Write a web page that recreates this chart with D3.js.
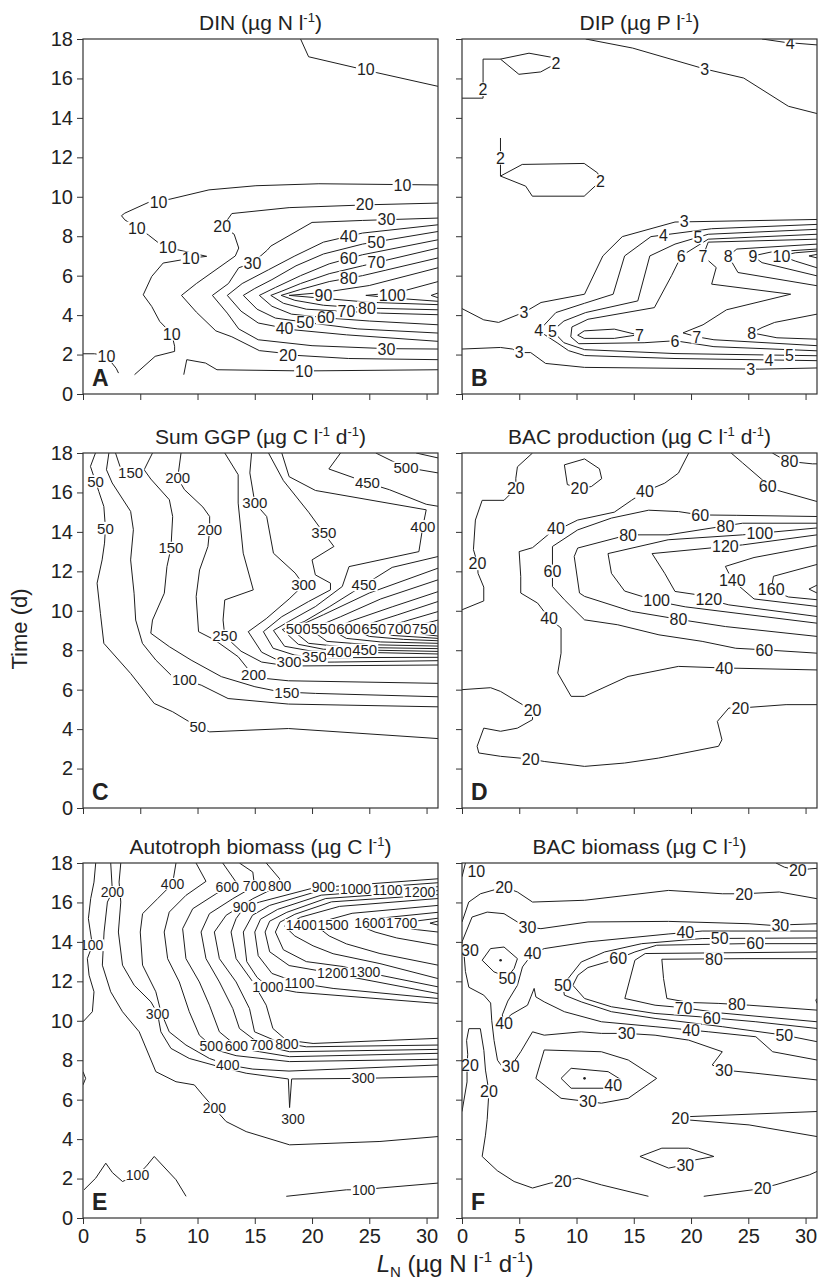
<!DOCTYPE html>
<html>
<head>
<meta charset="utf-8">
<title>Contour panels</title>
<script src="https://d3js.org/d3.v7.min.js"></script>
<style>
body { margin: 0; background: #fff; font-family: "Liberation Sans", Arial, Helvetica, sans-serif; }
</style>
</head>
<body>
<script>
// axis values
var xTicks = [0, 5, 10, 15, 20, 25, 30];
var tTicks = [0, 2, 4, 6, 8, 10, 12, 14, 16, 18];

// A: DIN  -- contour lines as [L_N, time] points, labels as [level, L_N, time]
var dinLines = [
 [[19.0,18],[19.7,17.1],[25.6,16.3],[31,15.6]],
 [[31,10.6],[20.6,10.66],[15.1,10.56],[11.0,10.35],[7.6,9.88],[5.7,9.71],[3.65,9.17],[3.36,9.04],[3.65,8.83],[5.7,8.07],[7.0,7.48],[9.5,7.15],[10.8,6.98],[9.5,6.89],[7.0,6.64],[6.0,5.96],[5.26,5.03],[6.0,4.44],[6.7,3.68],[7.75,3.05],[8.0,2.42],[8.0,2.16],[6.3,1.91],[4.5,0.98]],
 [[0,2.04],[1.0,2.04],[2.0,1.95],[2.9,1.3],[3.1,1.06]],
 [[8.8,0.98],[9.06,1.74],[10.7,1.57],[11.7,1.23],[19.3,1.17],[31,1.23]],
 [[31,9.68],[25.3,9.6],[18.0,9.45],[13.0,9.15],[12.2,8.5],[13.2,8.1],[13.6,7.4],[13.3,7.0],[9.9,5.6],[8.6,5.0],[9.9,4.15],[11.6,3.2],[13.0,2.9],[15.4,2.2],[17.0,2.1],[18.0,1.98],[23.2,1.8],[31,1.74]],
 [[31,8.92],[24.4,8.8],[20.0,8.7],[16.4,7.5],[16.1,7.3],[14.8,6.64],[13.6,6.4],[12.7,5.6],[11.3,5.0],[12.6,4.1],[13.6,3.3],[15.3,2.75],[20,2.45],[26.5,2.3],[31,2.28]],
 [[31,8.58],[24.4,8.16],[21,7.7],[18.5,7.0],[16.2,6.3],[13.9,5.6],[12.6,5.0],[13.8,4.2],[15.3,3.6],[18.3,3.26],[23,3.0],[31,2.67]],
 [[31,8.24],[24.4,7.6],[21,7.1],[18.6,6.5],[16.5,5.8],[15.0,5.35],[14.0,5.0],[15.2,4.3],[16.8,3.85],[19.9,3.6],[24,3.3],[31,3.09]],
 [[31,7.82],[24.4,7.06],[21.5,6.6],[19.0,6.0],[16.8,5.4],[15.4,5.0],[16.5,4.45],[18.2,4.05],[21.5,3.85],[25,3.7],[31,3.51]],
 [[31,7.4],[24.4,6.5],[21.5,6.1],[19.0,5.6],[17.3,5.2],[16.4,5.0],[17.5,4.6],[19.5,4.3],[22.7,4.19],[26,4.1],[31,4.02]],
 [[31,6.9],[24.4,6.0],[21.5,5.7],[19,5.3],[17.3,5.0],[18.5,4.75],[21,4.5],[24.4,4.36],[31,4.27]],
 [[31,6.4],[25,5.5],[21,5.15],[18.0,5.0],[21,4.85],[25,4.65],[31,4.53]],
 [[31,5.7],[27.5,5.15],[24.7,5.0],[27.5,4.85],[31,4.7]],
 [[31,5.12],[30.4,5.0],[31,4.88]]
];
var dinLabels = [
 [10,24.7,16.45],[10,27.9,10.6],[10,6.6,9.7],[10,4.7,8.4],[10,7.4,7.43],[10,9.4,6.88],[10,7.75,3.05],[10,2.05,1.92],[10,19.3,1.17],
 [20,24.6,9.6],[20,12.15,8.5],[20,17.9,1.98],
 [30,26.5,8.84],[30,14.8,6.64],[30,26.5,2.28],
 [40,23.2,8.0],[50,25.6,7.72],[60,23.2,6.87],[70,25.6,6.66],[80,23.2,5.88],
 [40,17.6,3.34],[50,19.4,3.64],[60,21.2,3.87],[70,23.0,4.18],[80,24.8,4.36],
 [90,21.0,5.0],[100,27.0,5.0]
];

// B: DIP
var dipLines = [
 [[26.2,18],[28.2,17.83],[31,17.7]],
 [[10.8,18],[14.9,17.54],[21.2,16.48],[24.6,16.02],[28.5,14.59],[31,14.22]],
 [[0,15.0],[1.84,15.0],[1.84,16.98],[3.36,16.98],[5.85,17.28],[7.75,17.08],[8.2,16.75],[6.87,16.33],[4.97,16.21],[3.36,16.98]],
 [[3.36,12.98],[3.36,11.05],[5.26,11.64],[10.67,11.69],[11.84,11.21],[12.1,10.8],[10.67,10.03],[6.14,10.03],[5.56,10.54],[3.36,11.05]],
 [[0,4.33],[1.9,3.76],[3.2,3.63],[5.0,4.05],[5.4,4.13],[6.9,4.64],[10.7,5.06],[12.3,7.0],[14.0,7.98],[18.6,8.72],[31,8.85]],
 [[0,2.28],[3.36,2.36],[4.4,2.28],[5.0,2.1],[6.0,2.1],[7.3,1.55],[10.7,1.35],[26.0,1.26],[31,1.32]],
 [[31,8.6],[21.8,8.38],[16.5,7.98],[14.2,7.0],[13.2,5.06],[10.7,4.6],[8.2,4.13],[6.7,3.2],[8.3,2.6],[9.3,2.2],[10.7,1.95],[18.6,1.8],[31,1.69]],
 [[31,8.35],[21.5,8.1],[18.6,7.6],[16.4,7.0],[15.35,4.72],[10.8,4.13],[8.9,3.7],[7.9,3.2],[8.9,2.6],[10.7,2.25],[18.6,2.05],[31,1.94]],
 [[31,8.1],[21.5,7.85],[19.15,7.0],[18.3,6.0],[16.8,4.38],[11.0,3.79],[9.6,3.4],[9.5,2.9],[10.2,2.55],[15.9,2.6],[18.6,2.7],[22,2.4],[31,2.19]],
 [[10.1,2.98],[10.67,3.2],[13.3,3.29],[15.35,3.0],[13.3,2.82],[10.67,2.82],[10.1,2.98]],
 [[31,7.85],[21.5,7.7],[21.05,7.0],[22.2,6.41],[21.8,5.57],[28.7,5.06],[23.1,4.27],[21.05,3.51],[19.3,3.1],[20.5,2.9],[22,2.75],[31,2.45]],
 [[31,7.6],[24,7.35],[23.25,7.0],[24.1,6.16],[31,5.49]],
 [[31,4.05],[27.3,3.63],[26.2,3.37],[25.3,3.1],[27.5,2.85],[31,2.78]],
 [[31,7.35],[27,7.2],[25.4,7.0],[26.2,6.66],[31,5.99]],
 [[31,7.25],[29.1,7.16],[27.9,7.0],[29.1,6.74],[31,6.4]],
 [[31,7.08],[30.3,7.0],[31,6.9]]
];
var dipLabels = [
 [4,28.65,17.8],[3,21.2,16.48],[2,1.84,15.45],[2,8.2,16.75],[2,3.36,11.97],[2,12.1,10.8],
 [3,5.4,4.13],[3,19.4,8.75],[3,25.2,1.27],
 [3,5.0,2.1],[4,6.7,3.25],[4,26.8,1.72],[4,17.6,8.06],[5,7.9,3.2],[5,28.6,1.95],[5,20.6,7.94],
 [6,19.15,7.0],[6,18.6,2.68],[7,15.5,3.0],[7,21.05,7.0],[7,20.5,2.9],
 [8,23.25,7.0],[8,25.3,3.1],[9,25.4,7.0],[10,27.9,7.0]
];

// C: Sum GGP
var ggpLines = [
 [[1.09,18],[0.65,17.32],[1.09,16.56],[1.38,16.05],[1.82,15.29],[1.96,14.19],[1.88,13.43],[1.67,12.58],[1.23,11.4],[1.52,9.87],[1.82,8.35],[4.16,6.82],[6.22,5.3],[7.83,4.88],[10.03,4.11],[11.06,3.86],[17.94,4.03],[31,3.52]],
 [[2.26,18],[2.05,17.15],[2.55,16.48],[4.16,15.04],[4.4,14.11],[4.16,12.58],[4.46,10.89],[4.6,9.53],[5.19,8.35],[6.36,7.5],[7.68,6.74],[8.86,6.49],[10.32,6.23],[12.67,5.55],[17.94,5.27],[31,5.13]],
 [[2.84,18],[3.28,17.23],[4.16,16.99],[5.34,17.15],[6.07,18]],
 [[5.34,17.15],[5.92,16.68],[7.54,15.63],[7.83,14.78],[7.68,13.18],[7.33,12.24],[7.1,10.89],[6.07,9.53],[5.92,8.86],[7.54,8.18],[9.44,7.5],[12.08,6.66],[15.01,6.15],[17.21,5.89],[20.29,5.81],[31,5.64]],
 [[8.56,18],[8.27,16.73],[8.86,16.14],[10.47,15.26],[11.06,14.78],[11.06,14.11],[10.91,13.26],[10.18,12.07],[9.88,10.72],[10.09,8.94],[11.5,8.52],[13.55,7.67],[14.72,6.82],[15.89,6.57],[17.94,6.45],[31,6.32]],
 [[12.38,18],[13.55,16.9],[13.55,15.46],[13.99,12.92],[14.87,11.06],[12.38,10.55],[12.23,9.53],[12.38,8.72],[13.8,7.95],[15.6,7.4],[17.94,7.2],[31,7.25]],
 [[14.72,18],[14.57,16.99],[15.01,15.46],[16.04,14.78],[16.63,12.92],[18.53,11.91],[19.27,11.31],[18.0,10.6],[16.0,9.6],[14.43,8.94],[15.6,7.9],[17.0,7.5],[18.8,7.38],[22,7.4],[31,7.47]],
 [[16.2,18],[17.5,16.6],[19.7,15.0],[21.03,13.94],[21.91,13.26],[20.0,12.58],[20.29,11.82],[21.61,11.4],[21.61,11.06],[19.7,10.47],[17.36,9.7],[15.75,8.94],[16.6,8.1],[18.5,7.75],[20.9,7.62],[31,7.64]],
 [[17.36,18],[18.0,16.8],[20.3,16.1],[29.97,15.12],[29.68,14.28],[29.33,13.0],[23.23,12.24],[22.64,11.23],[20.29,10.21],[17.94,9.45],[16.63,9.0],[17.6,8.2],[20,7.95],[31,7.81]],
 [[31,12.75],[27,12.2],[24.55,11.31],[21.5,10.2],[19.3,9.45],[17.4,9.05],[18.8,8.3],[21,8.05],[31,7.94]],
 [[31,12.16],[25,10.9],[21,9.8],[18.2,9.06],[19.7,8.35],[23,8.15],[31,8.08]],
 [[31,11.57],[26,10.6],[22.5,9.7],[19.85,9.06],[21.3,8.45],[25,8.28],[31,8.21]],
 [[31,10.97],[27,10.2],[23.5,9.5],[21.6,9.06],[23,8.6],[26,8.42],[31,8.35]],
 [[31,10.47],[27.5,9.8],[24.8,9.3],[23.7,9.06],[25,8.7],[28,8.55],[31,8.48]],
 [[31,9.96],[28,9.45],[25.7,9.06],[27,8.75],[31,8.6]],
 [[31,9.53],[29.5,9.3],[28.1,9.06],[29.5,8.82],[31,8.72]],
 [[31,9.2],[30.4,9.03],[31,8.86]],
 [[22.49,18],[21.47,17.19],[24.1,16.65],[24.84,16.48],[26.75,16.14],[29.97,15.4],[31,15.3]],
 [[25.57,18],[27.04,17.58],[28.21,17.24],[29.38,17.15],[31,16.99]],
 [[29.09,18],[31,17.75]]
];
var ggpLabels = [
 [50,1.09,16.56],[50,1.96,14.19],[50,10.03,4.11],[100,8.86,6.49],
 [150,4.16,16.99],[150,7.68,13.18],[150,17.8,5.87],
 [200,8.27,16.73],[200,11.06,14.11],[200,14.9,6.78],[250,12.38,8.72],
 [300,15.01,15.46],[300,19.27,11.31],[350,21.03,13.94],
 [400,29.68,14.28],[450,24.84,16.48],[450,24.55,11.31],[500,28.21,17.24],
 [300,18.0,7.43],[350,20.2,7.66],[400,22.4,7.92],[450,24.6,8.01],
 [500,18.8,9.08],[550,21.0,9.1],[600,23.2,9.1],[650,25.4,9.1],[700,27.6,9.1],[750,29.8,9.1]
];

// D: BAC production
var bacProdLines = [
 [[6.16,18],[4.84,17.3],[4.7,16.72],[4.7,16.2],[3.67,15.6],[1.76,15.6],[1.17,14.6],[1.0,13.1],[1.35,12.4],[1.4,11.9],[1.9,11.2],[1.9,10.5],[0,10.05]],
 [[8.94,17.4],[10.7,17.7],[12.0,17.2],[12.2,16.7],[11.3,16.3],[10.26,16.2],[9.2,16.4],[8.94,17.4]],
 [[19.8,18],[18.9,16.98],[17.7,16.47],[15.98,16.05],[14.8,15.6],[13.3,15.0],[10.1,14.6],[8.94,14.27],[8.2,14.2],[7.5,13.85],[6.16,13.2],[4.99,13.0],[5.13,11.74],[5.13,10.9],[6.6,10.39],[7.6,9.63],[8.65,9.12],[8.65,7.85],[8.36,6.84],[9.53,5.66],[10.7,5.66],[14.5,6.67],[18.9,7.18],[22.9,7.1],[31,7.0]],
 [[23.5,18],[24.5,17.5],[26.4,16.55],[26.7,16.3],[27.4,16.13],[31,15.54]],
 [[27.1,18],[28.0,17.7],[28.6,17.57],[30.6,17.45],[31,17.45]],
 [[31,14.78],[24,14.84],[20.8,14.86],[18.9,15.03],[16.3,15.1],[13.05,14.7],[10.1,14.1],[7.9,13.26],[7.9,12.0],[7.9,11.23],[8.94,10.56],[10.7,9.54],[13.6,9.29],[17.2,8.78],[20.97,8.45],[23.9,8.1],[26.4,8.02],[31,7.85]],
 [[31,14.44],[24.5,14.44],[18.0,13.85],[14.5,13.85],[10.1,13.18],[9.8,12.75],[10.26,10.9],[10.7,10.73],[14.8,9.97],[18.3,9.63],[19.2,9.54],[23.0,9.2],[31,8.7]],
 [[31,14.2],[24.5,13.85],[18,13.6],[12.75,12.9],[13.05,11.9],[14.2,11.0],[16.6,10.57],[17.7,10.4],[19.5,10.2],[31,9.37]],
 [[31,13.85],[24.5,13.34],[16.6,12.9],[17.7,11.9],[18.6,10.98],[20.7,10.8],[21.55,10.56],[23.3,10.3],[31,9.71]],
 [[31,13.3],[25.5,12.7],[23,12.25],[23.6,11.55],[25.5,10.6],[31,10.22]],
 [[31,12.35],[27.2,11.75],[27,11.07],[28.5,10.7],[31,10.56]],
 [[31,11.3],[30.3,11.1],[31,10.9]],
 [[0,6.0],[2.5,6.1],[3.37,5.91],[5.28,5.24],[6.16,4.95],[6.16,4.48],[4.84,4.05],[3.37,3.89],[1.9,4.05],[1.32,3.13],[1.47,2.79],[3.37,2.62],[6.0,2.48],[7.18,2.36],[10.7,2.11],[14.2,2.28],[17.15,2.53],[22.4,3.13],[22.7,3.46],[22.3,4.39],[23.3,5.07],[24.3,5.07],[28.3,5.24],[31,5.24]]
];
var bacProdLabels = [
 [20,4.7,16.2],[20,1.35,12.4],[20,10.26,16.2],
 [40,15.98,16.05],[40,8.2,14.2],[40,7.6,9.63],[40,22.9,7.1],
 [60,26.7,16.3],[80,28.6,17.57],[60,20.8,14.86],[60,7.9,12.0],[60,26.4,8.02],
 [80,23.0,14.3],[80,14.5,13.85],[80,18.9,9.57],[100,26.0,13.93],[100,17.0,10.51],
 [120,23.0,13.26],[120,21.55,10.56],[140,23.6,11.55],[160,27.0,11.07],
 [20,6.16,4.95],[20,6.0,2.48],[20,24.3,5.07]
];

// E: autotroph biomass
var autoLines = [
 [[1.11,18],[0.96,17.03],[0.67,16.19],[0.47,15.18],[0.82,13.83],[0.38,13.15],[0.53,12.31],[0.96,11.47],[0.82,10.46],[0,9.95]],
 [[0,7.42],[0.23,7.08],[0,6.75]],
 [[2.42,18],[2.57,16.53],[2.13,16.02],[1.84,14.5],[1.69,12.82],[2.42,11.47],[3.45,10.46],[4.91,9.44],[6.36,7.42],[8.12,6.91],[9.72,6.75],[10.45,6.24],[11.47,5.56],[12.5,4.89],[14.25,4.38],[18.04,3.71],[25.93,3.88],[31,4.13]],
 [[3.3,18],[3.15,17.03],[3.3,16.02],[3.09,14.5],[3.45,12.82],[4.47,11.8],[5.93,10.96],[6.51,10.37],[6.8,9.44],[7.68,8.6],[9.28,8.09],[11.91,7.67],[14.25,7.34],[17.93,7.05],[18.04,5.6],[18.22,7.05],[24.47,7.08],[31,7.17]],
 [[8.12,18],[7.82,16.95],[6.51,16.19],[5.2,15.43],[5.0,14.5],[5.2,12.82],[6.36,11.47],[6.8,10.46],[7.53,9.44],[8.99,8.77],[11.04,8.09],[12.64,7.76],[14.83,7.55],[17.99,7.45],[31,7.76]],
 [[9.87,18],[10.74,17.07],[8.99,16.36],[7.53,15.51],[7.09,14.5],[7.39,13.15],[8.41,11.97],[9.28,10.46],[10.16,9.27],[11.62,8.52],[13.37,8.23],[18.04,7.93],[31,8.05]],
 [[12.2,18],[13.37,17.03],[11.62,16.44],[9.58,15.68],[8.7,14.67],[8.99,13.15],[10.16,11.97],[11.04,10.79],[11.91,9.44],[13.66,8.6],[15.42,8.43],[18.04,8.18],[31,8.35]],
 [[13.66,18],[14.83,17.54],[14.98,16.83],[13.08,16.19],[11.04,15.43],[10.31,14.5],[10.74,13.15],[11.91,11.97],[13.08,10.62],[13.66,9.61],[15.56,8.77],[18.04,8.43],[31,8.55]],
 [[16.0,18],[17.17,17.2],[17.17,16.86],[14.83,16.19],[12.5,15.35],[11.47,14.5],[11.91,13.15],[13.37,11.97],[14.54,10.62],[14.98,9.44],[17.17,8.9],[19.5,8.68],[31,8.77]],
 [[31,17.2],[20.09,16.73],[15.42,16.02],[14.1,15.77],[13.37,15.18],[12.93,14.5],[13.37,13.15],[14.83,11.97],[16.0,10.79],[16.58,9.61],[17.75,9.02],[20.09,8.85],[31,9.11]],
 [[31,17.0],[20.4,16.55],[16.3,15.85],[14.8,15.35],[14.0,14.5],[14.3,13.0],[15.2,12.2],[16.15,11.73],[18.63,11.45],[31,10.88]],
 [[31,16.8],[20.8,16.37],[17.0,15.65],[15.5,15.15],[15.0,14.5],[15.3,13.3],[16.5,12.4],[18.92,11.9],[21.84,11.64],[31,11.13]],
 [[31,16.6],[21.2,16.2],[17.8,15.5],[16.3,15.05],[15.9,14.5],[16.3,13.5],[18.0,12.8],[20.96,12.5],[23.59,12.2],[31,11.38]],
 [[31,16.4],[21.7,16.03],[18.5,15.4],[17.2,15.0],[16.8,14.5],[17.5,13.6],[19.5,13.0],[22.72,12.75],[24.76,12.45],[31,11.72]],
 [[31,16.2],[22.4,15.8],[19.0,15.25],[17.6,14.8],[18.5,14.3],[20.09,13.8],[21.84,13.4],[25.93,12.9],[31,12.14]],
 [[31,15.85],[23.5,15.45],[21.0,15.05],[20.4,14.8],[21.5,14.3],[23.0,13.9],[25.93,13.41],[31,12.82]],
 [[31,15.5],[25.9,15.2],[24.0,14.85],[25.5,14.5],[27.39,14.2],[31,13.83]],
 [[31,15.2],[28.3,15.0],[27.0,14.9],[28.85,14.64],[31,14.5]],
 [[31,15.05],[30.3,14.95],[31,14.85]],
 [[0.09,1.43],[1.11,2.02],[1.99,2.78],[2.57,2.3],[3.45,1.85],[4.76,2.19],[5.49,2.6],[6.22,3.12],[8.12,1.94],[9.0,1.1]],
 [[17.75,1.1],[23,1.43],[24.5,1.43],[25.93,1.52],[31,1.77]]
];
var autoLabels = [
 [100,0.75,13.83],[200,2.57,16.53],[200,11.47,5.56],[300,6.51,10.37],[300,24.47,7.08],[300,18.34,5.0],
 [400,7.82,16.95],[400,12.64,7.76],[600,12.6,16.77],[700,14.98,16.83],[800,17.17,16.86],
 [500,11.2,8.74],[600,13.4,8.72],[700,15.6,8.76],[800,17.8,8.84],[900,14.1,15.77],
 [900,21.0,16.77],[1000,23.8,16.69],[1100,26.6,16.61],[1200,29.4,16.53],
 [1000,16.15,11.73],[1100,18.9,11.9],[1200,21.8,12.4],[1300,24.6,12.47],
 [1400,19.07,14.86],[1500,21.84,14.86],[1600,25.05,14.94],[1700,27.83,14.94],
 [100,4.76,2.19],[100,24.5,1.43]
];

// F: BAC biomass
var bacBioLines = [
 [[0,17.3],[0.3,18]],
 [[0,15.01],[0.59,16.02],[1.61,16.44],[3.67,16.78],[4.84,16.53],[6.16,16.02],[10.7,16.11],[18.04,16.61],[22.73,16.44],[24.63,16.44],[27.71,16.53],[31,16.19]],
 [[27.42,18],[28.15,17.79],[29.33,17.62],[30.35,17.7],[31,17.73]],
 [[0,14.0],[0.88,15.26],[2.2,15.51],[3.67,15.43],[4.84,15.01],[5.72,14.76],[6.89,14.67],[11.0,15.01],[18.04,15.04],[25.07,14.92],[26.98,14.84],[31,14.92]],
 [[1.76,13.07],[2.49,13.66],[3.67,13.74],[4.84,13.15],[4.55,12.65],[3.96,12.22],[2.79,12.48],[1.76,13.07]],
 [[31,14.55],[20.97,14.55],[18.0,14.4],[11.0,14.0],[7.18,13.66],[6.16,13.41],[5.28,12.73],[4.84,11.8],[4.0,11.0],[3.52,10.3],[3.67,9.87],[4.25,10.3],[5.72,10.79],[6.01,11.21],[6.3,11.64],[6.45,11.21],[7.18,10.96],[8.94,10.46],[12.17,9.95],[16.86,9.7],[21.55,9.44],[25.66,9.19],[27.13,8.43],[31,8.01]],
 [[31,14.2],[20.97,14.17],[15.69,13.91],[12.46,13.49],[10.41,12.98],[8.8,11.8],[8.94,11.3],[10.41,10.96],[13.05,10.46],[16.86,10.12],[22.73,9.7],[28.15,9.27],[31,8.94]],
 [[31,13.91],[24.63,13.91],[17.0,13.83],[15.1,13.49],[13.64,13.15],[11.0,12.7],[10.12,12.31],[9.68,11.8],[10.7,11.13],[13.05,10.71],[16.86,10.37],[20.82,10.2],[25.66,9.95],[31,9.61]],
 [[31,13.49],[16.0,13.41],[15.1,13.07],[14.22,11.13],[16.86,10.79],[19.35,10.66],[22.5,10.4],[31,9.95]],
 [[31,13.15],[24.63,13.15],[17.45,13.12],[17.6,12.14],[17.89,11.13],[19.79,10.93],[22.43,10.88],[25.07,10.79],[31,10.54]],
 [[31,11.13],[30.9,11.05],[31,10.88]],
 [[0,14.0],[0.15,13.58],[0.3,12.5],[0.6,11.7],[1.9,11.3],[2.5,10.9],[2.6,10.0],[2.8,9.0],[3.1,8.0],[3.6,7.6],[4.25,7.67],[5.13,8.43],[6.16,9.44],[7.18,9.27],[10.41,9.44],[12.17,9.36],[14.37,9.36],[16.86,9.27],[19.79,9.02],[22.73,8.43],[21.85,7.76],[22.87,7.5],[25.66,7.34],[31,7.0]],
 [[0,5.4],[0.44,6.9],[0.44,7.76],[0.5,8.3],[0.4,9.0],[0.6,9.6],[1.6,9.6],[1.91,8.5],[2.05,7.5],[2.35,6.41],[2.2,5.0],[2.05,4.2],[1.76,3.12],[3.08,2.4],[4.55,1.85],[6.16,1.52],[7.7,1.77],[8.8,1.85],[10.12,2.02],[12.17,1.68],[16.28,1.1]],
 [[6.45,7.08],[7.18,8.52],[12.17,8.43],[14.52,8.01],[17.0,7.08],[14.52,6.07],[12.17,5.82],[8.65,6.07],[6.45,7.08]],
 [[8.65,7.08],[9.53,7.59],[12.76,7.42],[13.93,7.0],[12.76,6.58],[9.53,6.58],[8.65,7.08]],
 [[31,5.4],[19.79,5.14],[19.06,5.06],[19.79,4.97],[25.07,4.72],[31,4.13]],
 [[15.54,3.12],[17.45,3.54],[19.79,3.54],[21.99,3.12],[20.38,2.95],[19.5,2.7],[18.04,2.53],[15.54,3.12]],
 [[21.11,1.1],[25.37,1.43],[26.25,1.52],[27.42,1.69],[30.35,2.19],[31,2.36]]
];
var bacBioLabels = [
 [10,1.25,17.6],[20,3.67,16.78],[20,24.63,16.44],[20,29.33,17.62],
 [30,5.72,14.76],[30,27.8,14.86],[30,0.7,13.58],[50,3.96,12.14],
 [40,6.16,13.41],[40,19.5,14.47],[50,22.5,14.17],[60,25.6,13.91],[80,22.0,13.14],
 [60,13.64,13.15],[50,8.8,11.8],[70,19.35,10.66],[80,24.0,10.83],[60,21.8,10.15],
 [40,3.67,9.87],[30,14.37,9.36],[40,20.0,9.52],[50,28.15,9.27],[30,4.25,7.67],[30,22.87,7.5],
 [20,0.7,7.76],[20,2.35,6.41],[40,13.2,6.74],[30,11.0,5.9],[20,19.06,5.06],[30,19.5,2.7],
 [20,8.8,1.85],[20,26.25,1.52]
];
var bacBioDots = [[3.37,13.07],[10.7,7.08]];

var W = 819, H = 1279, PW = 355, PH = 355;
var colLeft = [83, 462];
var rowTop = [39, 453, 863];
var font = '"Liberation Sans", Arial, Helvetica, sans-serif';
var ink = "#1e1e1e";

var panels = [
 {letter: "A", col: 0, row: 0, labelSize: 16, title: [["DIN (µg N l", 0], ["-1", 1], [")", 0]], lines: dinLines, labels: dinLabels, dots: []},
 {letter: "B", col: 1, row: 0, labelSize: 16, title: [["DIP (µg P l", 0], ["-1", 1], [")", 0]], lines: dipLines, labels: dipLabels, dots: []},
 {letter: "C", col: 0, row: 1, labelSize: 15, title: [["Sum GGP (µg C l", 0], ["-1", 1], [" d", 0], ["-1", 1], [")", 0]], lines: ggpLines, labels: ggpLabels, dots: []},
 {letter: "D", col: 1, row: 1, labelSize: 16, title: [["BAC production (µg C l", 0], ["-1", 1], [" d", 0], ["-1", 1], [")", 0]], lines: bacProdLines, labels: bacProdLabels, dots: []},
 {letter: "E", col: 0, row: 2, labelSize: 14, title: [["Autotroph biomass (µg C l", 0], ["-1", 1], [")", 0]], lines: autoLines, labels: autoLabels, dots: []},
 {letter: "F", col: 1, row: 2, labelSize: 16, title: [["BAC biomass (µg C l", 0], ["-1", 1], [")", 0]], lines: bacBioLines, labels: bacBioLabels, dots: bacBioDots}
];

var svg = d3.select("body").append("svg")
  .attr("width", W).attr("height", H)
  .style("font-family", font);

// superscript helper for titles
function writeParts(text, parts, size) {
  var up = 0;
  parts.forEach(function(p) {
    var ts = text.append("tspan").text(p[0]);
    if (p[1]) {
      ts.attr("font-size", size * 0.62).attr("dy", -size * 0.4);
      up = size * 0.4;
    } else if (up) {
      ts.attr("dy", up);
      up = 0;
    }
  });
}

panels.forEach(function(p, i) {
  var x0 = colLeft[p.col], y0 = rowTop[p.row];
  var x = d3.scaleLinear().domain([0, 31]).range([x0, x0 + PW]);
  var y = d3.scaleLinear().domain([0, 18]).range([y0 + PH, y0]);
  var g = svg.append("g");

  g.append("clipPath").attr("id", "clip" + i)
    .append("rect").attr("x", x0).attr("y", y0).attr("width", PW).attr("height", PH);

  var line = d3.line().x(function(d) { return x(d[0]); }).y(function(d) { return y(d[1]); });

  g.append("g").attr("clip-path", "url(#clip" + i + ")")
    .selectAll("path").data(p.lines).join("path")
    .attr("d", line)
    .attr("fill", "none")
    .attr("stroke", ink)
    .attr("stroke-width", 1)
    .attr("stroke-linejoin", "round");

  g.selectAll("circle.dot").data(p.dots).join("circle")
    .attr("class", "dot")
    .attr("cx", function(d) { return x(d[0]); })
    .attr("cy", function(d) { return y(d[1]); })
    .attr("r", 1.3).attr("fill", ink);

  // contour labels, each on a white patch that breaks the line
  var fs = p.labelSize;
  var lab = g.append("g").attr("clip-path", "url(#clip" + i + ")");
  p.labels.forEach(function(d) {
    var px = x(d[1]), py = y(d[2]);
    var t = lab.append("text")
      .attr("x", px).attr("y", py + fs * 0.36)
      .attr("text-anchor", "middle")
      .attr("font-size", fs)
      .attr("fill", ink)
      .text(d[0]);
    var w = t.node().getComputedTextLength();
    lab.insert("rect", function() { return t.node(); })
      .attr("x", px - w / 2 - 1).attr("y", py - fs * 0.42)
      .attr("width", w + 2).attr("height", fs * 0.84)
      .attr("fill", "#fff");
  });

  // axes
  var ax = g.append("g").attr("transform", "translate(" + x0 + ",0)")
    .call(d3.axisLeft(y).tickValues(tTicks).tickSize(6).tickSizeOuter(0).tickPadding(4)
      .tickFormat(p.col === 0 ? d3.format("d") : function() { return ""; }));
  var bx = g.append("g").attr("transform", "translate(0," + (y0 + PH) + ")")
    .call(d3.axisBottom(x).tickValues(xTicks).tickSize(6).tickSizeOuter(0).tickPadding(5)
      .tickFormat(p.row === 2 ? d3.format("d") : function() { return ""; }));
  [ax, bx].forEach(function(a) {
    a.select(".domain").remove();
    a.selectAll("line").attr("stroke", "#333");
    a.selectAll("text").attr("font-size", 20).attr("font-family", font).attr("fill", "#222");
  });

  g.append("rect")
    .attr("x", x0).attr("y", y0).attr("width", PW).attr("height", PH)
    .attr("fill", "none").attr("stroke", "#333").attr("stroke-width", 1.2);

  var title = g.append("text")
    .attr("x", x0 + PW / 2).attr("y", y0 - 9)
    .attr("text-anchor", "middle")
    .attr("font-size", 21)
    .attr("fill", "#222");
  writeParts(title, p.title, 21);

  g.append("text")
    .attr("x", x0 + 9).attr("y", y0 + PH - 8)
    .attr("font-size", 23).attr("font-weight", "bold")
    .attr("fill", "#222")
    .text(p.letter);
});

// shared axis titles
svg.append("text")
  .attr("transform", "translate(27,629) rotate(-90)")
  .attr("text-anchor", "middle")
  .attr("font-size", 22).attr("fill", "#222")
  .text("Time (d)");

var xl = svg.append("text")
  .attr("x", 455).attr("y", 1272)
  .attr("text-anchor", "middle")
  .attr("font-size", 24).attr("fill", "#222");
xl.append("tspan").attr("font-style", "italic").text("L");
xl.append("tspan").attr("font-size", 15).attr("dy", 5).text("N");
xl.append("tspan").attr("dy", -5).text(" (µg N l");
xl.append("tspan").attr("font-size", 15).attr("dy", -10).text("-1");
xl.append("tspan").attr("dy", 10).text(" d");
xl.append("tspan").attr("font-size", 15).attr("dy", -10).text("-1");
xl.append("tspan").attr("dy", 10).text(")");
</script>
</body>
</html>
